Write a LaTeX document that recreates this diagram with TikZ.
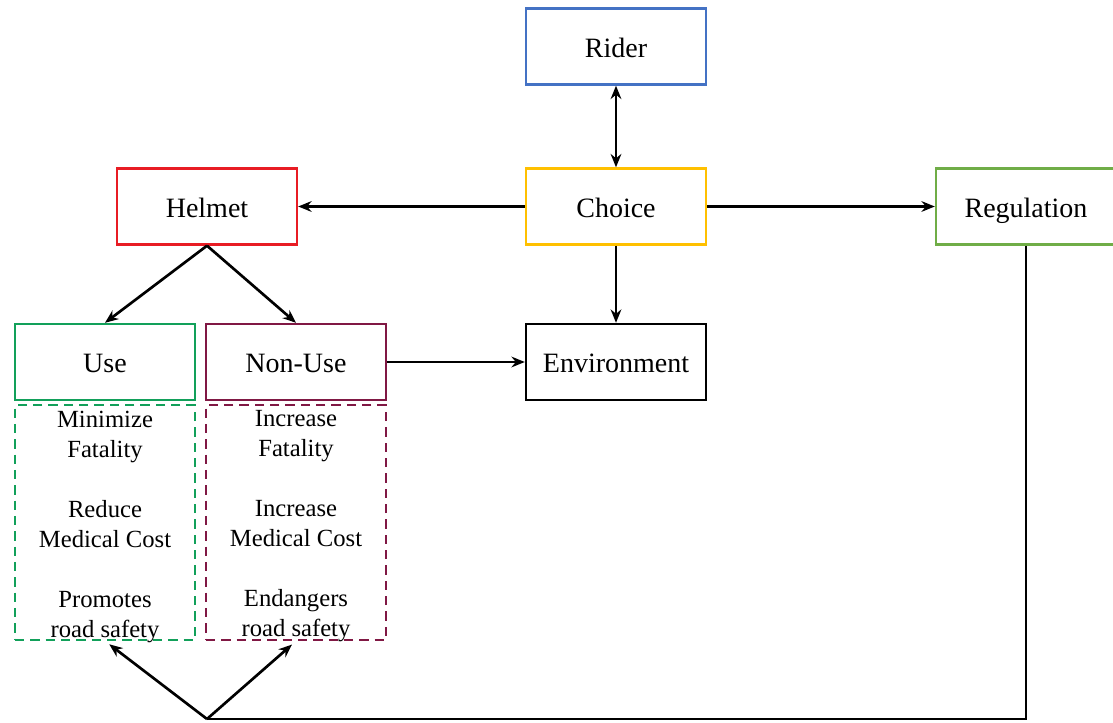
\documentclass[tikz,border=0pt]{standalone}
\usepackage{fontspec}
\setmainfont{Liberation Serif}
\usetikzlibrary{arrows.meta}
\definecolor{riderblue}{RGB}{68,114,196}
\definecolor{choiceyellow}{RGB}{255,192,0}
\definecolor{helmetred}{RGB}{232,28,36}
\definecolor{reggreen}{RGB}{112,173,71}
\definecolor{usegreen}{RGB}{18,160,90}
\definecolor{nonusered}{RGB}{128,24,68}
\tikzset{
  box/.style={draw, line width=1.8pt, minimum width=135pt, minimum height=57pt, inner sep=0pt,
    text height=16pt, text depth=0pt, font=\fontsize{21}{25}\selectfont},
  detbox/.style={draw, dashed, dash pattern=on 7pt off 4.5pt, line width=1.8pt, minimum width=135pt,
    minimum height=176pt, inner sep=0pt},
  dettxt/.style={align=center, font=\fontsize{18.5}{22.5}\selectfont, inner sep=0pt},
  arr/.style={line width=2pt, -{Stealth[length=10pt,width=8pt]}},
  darr/.style={line width=2pt, {Stealth[length=10pt,width=8pt]}-{Stealth[length=10pt,width=8pt]}},
  ln/.style={line width=2pt}
}
\begin{document}
\begin{tikzpicture}[x=0.75pt,y=-0.75pt]
\useasboundingbox (0,0) rectangle (1113,723);
\node[box, draw=riderblue] (rider) at (616,46.5) {Rider};
\node[box, draw=choiceyellow] (choice) at (616,206.5) {Choice};
\node[box, draw=helmetred] (helmet) at (207,206.5) {Helmet};
\node[box, draw=reggreen] (reg) at (1026,206.5) {Regulation};
\node[box, draw=usegreen] (use) at (105,362) {Use};
\node[box, draw=nonusered] (nonuse) at (296,362) {Non-Use};
\node[box, draw=black] (env) at (616,362) {Environment};
\node[detbox, draw=usegreen] (usedet) at (105,522.5) {};
\node[detbox, draw=nonusered] (nonusedet) at (296,522.5) {};
\node[dettxt] (usetxt) at (105,526.5) {Minimize\\Fatality\\[22.5pt]Reduce\\Medical Cost\\[22.5pt]Promotes\\road safety};
\node[dettxt] (nonusetxt) at (296,526.5) {Increase\\Fatality\\[22.5pt]Increase\\Medical Cost\\[22.5pt]Endangers\\road safety};
\coordinate (j) at (207,719);
\draw[darr] (rider) -- (choice);
\draw[arr] (choice) -- (helmet);
\draw[arr] (choice) -- (reg);
\draw[arr] (choice) -- (env);
\draw[arr] (helmet.south) -- (use.north);
\draw[arr] (helmet.south) -- (nonuse.north);
\draw[arr] (nonuse) -- (env);
\draw[ln] (reg.south) |- (j);
\draw[arr, shorten >=4pt] (j) -- (usedet.south);
\draw[arr, shorten >=4pt] (j) -- (nonusedet.south);
\end{tikzpicture}
\end{document}
